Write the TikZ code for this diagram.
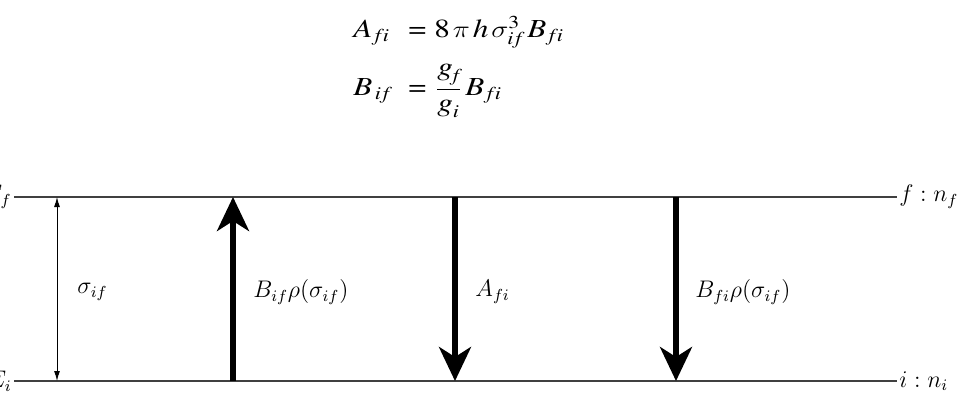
\documentclass[tikz,border=0pt]{standalone}
\usepackage[T1,TU]{fontenc}
\usepackage{amsmath}
\usetikzlibrary{arrows.meta}
\newcommand\Ti[1]{\text{\fontencoding{T1}\fontfamily{ptm}\itshape\selectfont #1}}
\newcommand\Tu[1]{\text{\fontencoding{T1}\fontfamily{ptm}\upshape\selectfont #1}}
\newcommand\wide[1]{\scalebox{1.2}[1]{#1}}
\newcommand\sfi{\Ti{f\kern0.8pt i}}
\newcommand\sif{\Ti{i\kern0.8pt f}}
\begin{document}
\begin{tikzpicture}[x=0.5pt,y=-0.5pt,
  level/.style={line width=0.6pt, black!75},
  thin arrow/.style={line width=0.5pt, {Latex[length=5pt,width=3pt]}-{Latex[length=5pt,width=3pt]}},
  thick arrow/.style={line width=2.7pt, -{Stealth[length=17pt,width=16pt,inset=5pt]}},
  lbl/.style={anchor=west, inner sep=0pt, font=\large},
  eq/.style={inner sep=0pt, font=\fontsize{13}{15}\selectfont}]
\useasboundingbox (0,0) rectangle (969,408);
% equations
\node[eq, anchor=base west] (eq1l) at (353,37) {\wide{$\Ti{A}_{\kern1pt\sfi}$}};
\node[eq, anchor=base] (eq1e) at (417.5,37) {\wide{$\Tu{=}$}};
\node[eq, anchor=base west] (eq1r) at (434,37) {\wide{$\Tu{8}\kern1.2pt\pi\kern1.2pt\Ti{h}\kern1.2pt\sigma^{\Tu{3}}_{\sif}\kern2pt\Ti{B}_{\kern1pt\sfi}$}};
\node[eq, anchor=base west] (eq2l) at (353,95) {\wide{$\Ti{B}_{\kern1pt\sif}$}};
\node[eq, anchor=base] (eq2e) at (417.5,95) {\wide{$\Tu{=}$}};
\node[eq, anchor=base west] (eq2r) at (434,95) {\wide{$\dfrac{\Ti{g}_{\Ti{f}}}{\Ti{g}_{\Ti{i}}}\kern1pt\Ti{B}_{\kern1pt\sfi}$}};
% levels
\coordinate (fL) at (14,197);
\coordinate (fR) at (897,197);
\coordinate (iL) at (14,381);
\coordinate (iR) at (897,381);
\draw[level] (fL) -- (fR);
\draw[level] (iL) -- (iR);
\node[anchor=east, inner sep=1pt, font=\large] (Ef) at (fL) {$E_f$};
\node[anchor=east, inner sep=1pt, font=\large] (Ei) at (iL) {$E_i$};
\node[anchor=west, inner sep=1pt, font=\large] (nf) at (fR) {$f:n_f$};
\node[anchor=west, inner sep=1pt, font=\large] (ni) at (iR) {$i:n_i$};
% arrows
\coordinate (s1) at (57,197); \coordinate (s2) at (57,381);
\draw[thin arrow] (s1) -- (s2);
\node[lbl] (sl) at (77,292) {$\sigma_{if}$};
\coordinate (a1) at (233,381); \coordinate (a2) at (233,197);
\draw[thick arrow] (a1) -- (a2);
\node[lbl] (al) at (253,292) {$B_{if}\rho(\sigma_{if})$};
\coordinate (b1) at (455,197); \coordinate (b2) at (455,381);
\draw[thick arrow] (b1) -- (b2);
\node[lbl] (bl) at (475,292) {$A_{fi}$};
\coordinate (c1) at (676,197); \coordinate (c2) at (676,381);
\draw[thick arrow] (c1) -- (c2);
\node[lbl] (cl) at (695,292) {$B_{fi}\rho(\sigma_{if})$};
\end{tikzpicture}
\end{document}
